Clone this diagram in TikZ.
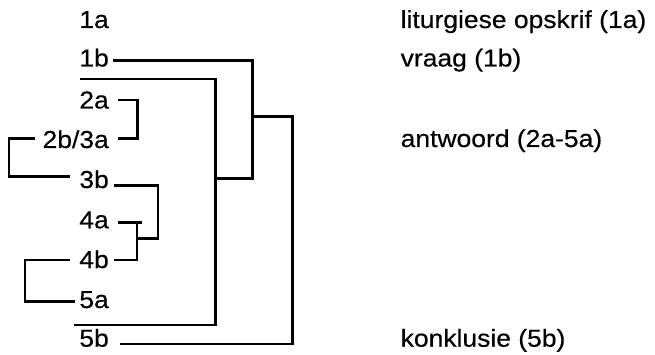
\documentclass[tikz,border=0pt]{standalone}
\usepackage{fontspec}
\setmainfont{Liberation Sans}[FakeStretch=1.08,FakeBold=0.4]
\begin{document}
\begin{tikzpicture}[x=1pt,y=-1pt,
  lbl/.style={anchor=base east,inner sep=0pt,font=\fontsize{24.5}{28}\selectfont},
  desc/.style={anchor=base west,inner sep=0pt,font=\fontsize{24.5}{28}\selectfont},
  conn/.style={line width=2.7pt,line join=miter,line cap=butt}]
\useasboundingbox (0,0) rectangle (655,355);
% labels
\node[lbl] (l1a) at (109,28) {1a};
\node[lbl] (l1b) at (109,66.5) {1b};
\node[lbl] (l2a) at (109,108.5) {2a};
\node[lbl] (l2b) at (109,148) {2b/3a};
\node[lbl] (l3b) at (109,188) {3b};
\node[lbl] (l4a) at (109,228.3) {4a};
\node[lbl] (l4b) at (109,268) {4b};
\node[lbl] (l5a) at (109,308) {5a};
\node[lbl] (l5b) at (109,346.7) {5b};
% descriptions
\node[desc] (d1a) at (400.5,28) {liturgiese opskrif (1a)};
\node[desc] (d1b) at (400.5,66.5) {vraag (1b)};
\node[desc] (d2a) at (400.5,147) {antwoord (2a-5a)};
\node[desc] (d5b) at (400.5,346.7) {konklusie (5b)};
% junction coordinates
\coordinate (a1) at (113,60.7);
\coordinate (a2) at (252.3,60.7);
\coordinate (a3) at (252.3,178.3);
\coordinate (a4) at (215.7,178.3);
\coordinate (b1) at (80,79);
\coordinate (b2) at (215.7,79);
\coordinate (b3) at (215.7,325);
\coordinate (b4) at (74,325);
\coordinate (c1) at (252.3,116.7);
\coordinate (c2) at (292.3,116.7);
\coordinate (c3) at (292.3,344);
\coordinate (c4) at (120,344);
\coordinate (e1) at (118,100);
\coordinate (e2) at (137.5,100);
\coordinate (e3) at (137.5,138.3);
\coordinate (e4) at (118,138.3);
\coordinate (f1) at (35,138.5);
\coordinate (f2) at (9,138.5);
\coordinate (f3) at (9,176.7);
\coordinate (f4) at (70,176.7);
\coordinate (g1) at (114,185.7);
\coordinate (g2) at (158,185.7);
\coordinate (g3) at (158,238.3);
\coordinate (g4) at (137,238.3);
\coordinate (h1) at (118,222.7);
\coordinate (h2) at (142,222.7);
\coordinate (h3) at (137,222.7);
\coordinate (h4) at (137,260);
\coordinate (h5) at (114,260);
\coordinate (k1) at (70,260);
\coordinate (k2) at (25,260);
\coordinate (k3) at (25,301.7);
\coordinate (k4) at (75,301.7);
% connectors
\draw[conn] (a1) -- (a2) -- (a3) -- (a4);
\draw[conn] (b1) -- (b2) -- (b3) -- (b4);
\draw[conn] (c1) -- (c2) -- (c3) -- (c4);
\draw[conn] (e1) -- (e2) -- (e3) -- (e4);
\draw[conn] (f1) -- (f2) -- (f3) -- (f4);
\draw[conn] (g1) -- (g2) -- (g3) -- (g4);
\draw[conn] (h1) -- (h2);
\draw[conn] (h3) -- (h4) -- (h5);
\draw[conn] (k1) -- (k2) -- (k3) -- (k4);
\end{tikzpicture}
\end{document}
